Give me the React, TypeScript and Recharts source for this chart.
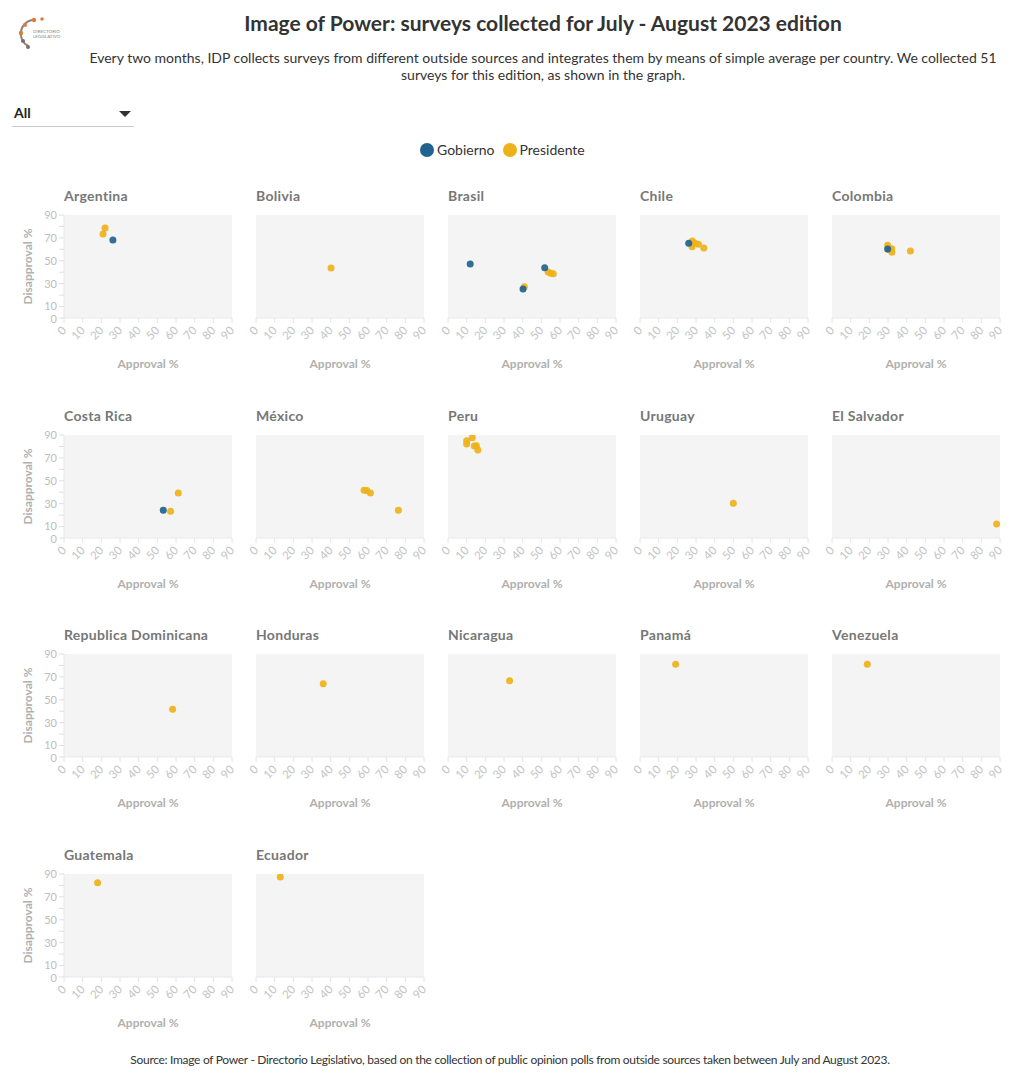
import React from 'react';
import { ScatterChart, Scatter, XAxis, YAxis, CartesianGrid } from 'recharts';

const countries = [
  'Argentina', 'Bolivia', 'Brasil', 'Chile', 'Colombia',
  'Costa Rica', 'México', 'Peru', 'Uruguay', 'El Salvador',
  'Republica Dominicana', 'Honduras', 'Nicaragua', 'Panamá', 'Venezuela',
  'Guatemala', 'Ecuador',
];

// [approval %, disapproval %] per survey, same order as countries
const presidentePoints: [number, number][][] = [
  [[22, 78.7], [20.9, 73.4]],
  [[40.2, 43.7]],
  [[40.9, 27.4], [53.6, 40.2], [55, 39], [56.4, 38.7]],
  [[28, 67.3], [27.9, 62.3], [29.5, 65.3], [31.3, 64.4], [34.2, 61.2]],
  [[29.8, 63.5], [32, 60.6], [32.1, 57.4], [30.6, 59.6], [42, 58.6]],
  [[57.1, 23.3], [61.2, 39.3]],
  [[57.9, 41.7], [59.3, 41.4], [61.3, 39.3], [76.3, 24.2]],
  [[13, 87.7], [10, 85], [10, 82.2], [14.1, 80.4], [15.2, 80.7], [16, 76.9]],
  [[50, 30.3]],
  [[88.2, 12.2]],
  [[58.2, 41.7]],
  [[36, 64]],
  [[33, 66.7]],
  [[19.1, 81]],
  [[18.9, 81]],
  [[18, 82.4]],
  [[13, 87.4]],
];

const gobiernoPoints: [number, number][][] = [
  [[26.2, 68.2]],
  [],
  [[11.9, 47.2], [51.8, 44], [40.2, 25.3]],
  [[26.1, 65.3]],
  [[29.8, 60.3]],
  [[53.2, 24.2]],
  [], [], [], [], [], [], [], [], [], [], [],
];

const xTicks = [0, 10, 20, 30, 40, 50, 60, 70, 80, 90];
const yTicks = [0, 10, 20, 30, 40, 50, 60, 70, 80, 90];
const yLabelTicks = [0, 10, 30, 50, 70, 90];

const BLUE = '#20638f';
const YELLOW = '#efb118';
const FONT = '"Source Sans Pro", Lato, "Noto Sans", sans-serif';

const dot = (color: string) => (props: any) => (
  <circle cx={props.cx} cy={props.cy} r={3.5} fill={color} fillOpacity={0.92} />
);

const XTick = (props: any) => {
  const { x, y, payload } = props;
  return (
    <text x={x + 3} y={y + 6} transform={`rotate(-45, ${x + 3}, ${y + 6})`} textAnchor="end"
      fontSize={11.5} fill="#c4c4c4" fontFamily={FONT}>
      {payload.value}
    </text>
  );
};

const YTick = (props: any) => {
  const { x, y, payload } = props;
  if (!yLabelTicks.includes(payload.value)) return null;
  // nudge 0 and 10 apart a little, they sit close together
  const dy = payload.value === 0 ? 5 : payload.value === 10 ? 3 : 4;
  return (
    <text x={x} y={y + dy} textAnchor="end" fontSize={11} fill="#bdbdbd" fontFamily={FONT}>
      {payload.value}
    </text>
  );
};

const Panel = ({ index }: { index: number }) => {
  const col = index % 5;
  const row = Math.floor(index / 5);
  const plotLeft = 64 + 192 * col;
  const plotTop = 215 + 219.7 * row;
  const first = col === 0;
  const pres = presidentePoints[index].map(([x, y]) => ({ x, y }));
  const gob = gobiernoPoints[index].map(([x, y]) => ({ x, y }));
  return (
    <>
      <div style={{ position: 'absolute', left: plotLeft, top: plotTop - 28, fontSize: 14, fontWeight: 700,
        color: '#777', fontFamily: FONT, letterSpacing: 0.3, whiteSpace: 'nowrap' }}>
        {countries[index]}
      </div>
      <div style={{ position: 'absolute', left: plotLeft - 44, top: plotTop - 10 }}>
        <ScatterChart width={224} height={171} margin={{ top: 10, right: 12, bottom: 8, left: 0 }}>
          <CartesianGrid fill="#f4f4f4" stroke="none" />
          <XAxis type="number" dataKey="x" domain={[0, 90]} ticks={xTicks} interval={0}
            allowDataOverflow tick={<XTick />} tickLine={{ stroke: '#e4e4e4' }} tickSize={5}
            axisLine={{ stroke: '#e8e8e8' }} height={50}
            label={{ value: 'Approval %', position: 'insideBottom', offset: 0, fill: '#b0b0b0',
              fontSize: 12, fontWeight: 700, fontFamily: FONT }} />
          <YAxis type="number" dataKey="y" domain={[0, 90]} ticks={yTicks} interval={0} width={44}
            allowDataOverflow
            tick={first ? <YTick /> : false}
            tickLine={first ? { stroke: '#dedede' } : false} tickSize={5}
            axisLine={first ? { stroke: '#e8e8e8' } : false}
            label={first ? { value: 'Disapproval %', angle: -90, position: 'insideLeft', offset: 8,
              fill: '#b0b0b0', fontSize: 12, fontWeight: 700, fontFamily: FONT, style: { textAnchor: 'middle' } } : undefined} />
          <Scatter name="Presidente" data={pres} fill={YELLOW} shape={dot(YELLOW)} isAnimationActive={false} />
          <Scatter name="Gobierno" data={gob} fill={BLUE} shape={dot(BLUE)} isAnimationActive={false} />
        </ScatterChart>
      </div>
    </>
  );
};

const Logo = () => (
  <svg width={50} height={40} style={{ position: 'absolute', left: 16, top: 14 }}>
    <path d="M 16 6 A 14 14 0 0 0 12 32" fill="none" stroke="#8a7f78" strokeWidth={2} />
    <circle cx={18} cy={6} r={2.2} fill="#e07b39" />
    <circle cx={26} cy={5} r={1.8} fill="#e07b39" />
    <circle cx={9} cy={11} r={2} fill="#e07b39" />
    <circle cx={5} cy={19} r={2.2} fill="#e07b39" />
    <circle cx={7} cy={27} r={2} fill="#7a6f6a" />
    <circle cx={12} cy={33} r={2} fill="#7a6f6a" />
    <text x={17} y={19} fontSize={4.5} fill="#888" fontFamily={FONT}>DIRECTORIO</text>
    <text x={17} y={24} fontSize={4.5} fill="#888" fontFamily={FONT}>LEGISLATIVO</text>
  </svg>
);

export default function App() {
  return (
    <div style={{ position: 'absolute', left: 0, top: 0, width: 1020, height: 1077, background: '#fff', fontFamily: FONT }}>
      <Logo />
      <div style={{ position: 'absolute', left: 80, width: 926, top: 10, textAlign: 'center', fontSize: 21,
        fontWeight: 700, color: '#333' }}>
        Image of Power: surveys collected for July - August 2023 edition
      </div>
      <div style={{ position: 'absolute', left: 80, width: 926, top: 49, textAlign: 'center', fontSize: 14,
        color: '#333', lineHeight: '17px' }}>
        Every two months, IDP collects surveys from different outside sources and integrates them by means of simple average per country. We collected 51
        <br />
        surveys for this edition, as shown in the graph.
      </div>
      <div style={{ position: 'absolute', left: 12, top: 103, width: 122, height: 23, borderBottom: '1px solid #ccc' }}>
        <span style={{ position: 'absolute', left: 2, top: 1, fontSize: 14, fontWeight: 700, color: '#222' }}>All</span>
        <svg width={12} height={8} style={{ position: 'absolute', left: 107, top: 8 }}>
          <polygon points="0,0 12,0 6,6" fill="#333" />
        </svg>
      </div>
      <div style={{ position: 'absolute', left: 420, top: 141, display: 'flex', alignItems: 'center', fontSize: 14, color: '#333' }}>
        <span style={{ width: 14, height: 14, borderRadius: 7, background: BLUE, display: 'inline-block', marginRight: 3 }} />
        <span style={{ marginRight: 8 }}>Gobierno</span>
        <span style={{ width: 14, height: 14, borderRadius: 7, background: YELLOW, display: 'inline-block', marginRight: 3 }} />
        <span>Presidente</span>
      </div>
      {countries.map((_, i) => <Panel key={i} index={i} />)}
      <div style={{ position: 'absolute', left: 0, width: 1020, top: 1052, textAlign: 'center', fontSize: 12,
        color: '#333', letterSpacing: -0.3 }}>
        Source: Image of Power - Directorio Legislativo, based on the collection of public opinion polls from outside sources taken between July and August 2023.
      </div>
    </div>
  );
}
